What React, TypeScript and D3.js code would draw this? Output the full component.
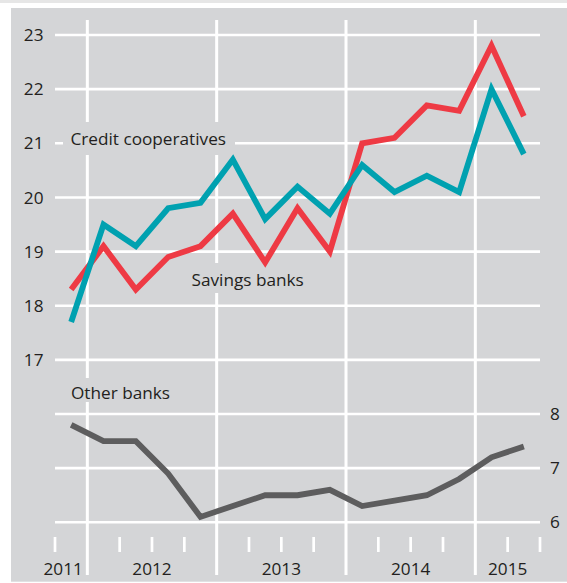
import React from "react";
import * as d3 from "d3";

const quarters = [
  "2011Q4", "2012Q1", "2012Q2", "2012Q3", "2012Q4",
  "2013Q1", "2013Q2", "2013Q3", "2013Q4",
  "2014Q1", "2014Q2", "2014Q3", "2014Q4",
  "2015Q1", "2015Q2",
];
const creditCooperatives = [17.7, 19.5, 19.1, 19.8, 19.9, 20.7, 19.6, 20.2, 19.7, 20.6, 20.1, 20.4, 20.1, 22.0, 20.8];
const savingsBanks = [18.3, 19.1, 18.3, 18.9, 19.1, 19.7, 18.8, 19.8, 19.0, 21.0, 21.1, 21.7, 21.6, 22.8, 21.5];
const otherBanks = [7.8, 7.5, 7.5, 6.9, 6.1, 6.3, 6.5, 6.5, 6.6, 6.3, 6.4, 6.5, 6.8, 7.2, 7.4];
const leftTicks = [17, 18, 19, 20, 21, 22, 23];
const rightTicks = [6, 7, 8];
const years = [2011, 2012, 2013, 2014, 2015];

const W = 567;
const H = 583;
const FONT = "'Open Sans', 'Noto Sans', sans-serif";
const PANEL = "#d4d5d7";
const TEXT = "#231f20";
const FS = 17.2;

function qToNum(q: string) {
  const y = +q.slice(0, 4);
  const n = +q.slice(5);
  return y + (n - 1) / 4 + 0.125;
}

export default function App() {
  const x = d3.scaleLinear().domain([2011.75, 2015.5]).range([55, 540]);
  const yL = d3.scaleLinear().domain([14, 23]).range([522.3, 35]);
  const yR = d3.scaleLinear().domain([6, 15]).range([522.3, 35]);

  const xs = quarters.map(qToNum);
  const lineL = d3
    .line<number>()
    .x((_, i) => x(xs[i]))
    .y((d) => yL(d))
    .curve(d3.curveLinear);
  const lineR = d3
    .line<number>()
    .x((_, i) => x(xs[i]))
    .y((d) => yR(d));

  const yearBounds = [2012, 2013, 2014, 2015];
  const tickQs: number[] = [];
  for (let v = 2011.75; v <= 2015.5001; v += 0.25) {
    if (Math.abs(v - Math.round(v)) > 0.01) tickQs.push(v);
  }

  const yearLabelX = (yr: number) => {
    if (yr === 2011) return x(2012) - 4.5;
    if (yr === 2015) return (x(2015) + x(2015.5)) / 2;
    return x(yr + 0.5);
  };

  const labels = [
    { text: "Credit cooperatives", tx: 70.5, ty: 144.5, box: [63, 122, 172, 33] },
    { text: "Savings banks", tx: 191.5, ty: 285.5, box: [184, 263, 129, 30] },
    { text: "Other banks", tx: 71, ty: 398.5, box: [63, 378, 114, 24] },
  ];

  return (
    <svg
      width={W}
      height={H}
      style={{ position: "absolute", left: 0, top: 0, background: "#fff" }}
      fontFamily={FONT}
    >
      <rect x={0} y={0} width={W} height={3} fill="#e6e6e6" />
      <rect x={11} y={8} width={W - 11} height={573.7} fill={PANEL} />

      {/* horizontal gridlines */}
      {leftTicks.map((t) => (
        <line key={"hl" + t} x1={55} x2={540} y1={yL(t)} y2={yL(t)} stroke="#fff" strokeWidth={2.6} />
      ))}
      {rightTicks.map((t) => (
        <line key={"hr" + t} x1={55} x2={540} y1={yR(t)} y2={yR(t)} stroke="#fff" strokeWidth={2.6} />
      ))}
      {/* vertical year gridlines */}
      {yearBounds.map((yb) => (
        <line key={"v" + yb} x1={x(yb)} x2={x(yb)} y1={20} y2={575} stroke="#fff" strokeWidth={3} />
      ))}
      {/* quarter ticks */}
      {tickQs.map((q) => (
        <line key={"t" + q} x1={x(q)} x2={x(q)} y1={537} y2={552} stroke="#fff" strokeWidth={2.7} />
      ))}

      {/* label backgrounds */}
      {labels.map((l) => (
        <rect key={"b" + l.text} x={l.box[0]} y={l.box[1]} width={l.box[2]} height={l.box[3]} fill={PANEL} />
      ))}

      {/* axis labels */}
      {leftTicks.map((t) => (
        <text key={"lt" + t} x={43.5} y={yL(t)} dy="0.36em" textAnchor="end" fontSize={FS} fill={TEXT}>
          {t}
        </text>
      ))}
      {rightTicks.map((t) => (
        <text key={"rt" + t} x={555} y={yR(t)} dy="0.36em" textAnchor="middle" fontSize={FS} fill={TEXT}>
          {t}
        </text>
      ))}
      {years.map((yr) => (
        <text
          key={"y" + yr}
          x={yearLabelX(yr)}
          y={575}
          textAnchor={yr === 2011 ? "end" : "middle"}
          fontSize={FS}
          fill={TEXT}
        >
          {yr}
        </text>
      ))}

      {/* data lines */}
      <path d={lineR(otherBanks) || ""} fill="none" stroke="#5d5d5e" strokeWidth={5.8} strokeLinejoin="miter" />
      <path d={lineL(savingsBanks) || ""} fill="none" stroke="#ee3a44" strokeWidth={5.8} strokeLinejoin="miter" />
      <path d={lineL(creditCooperatives) || ""} fill="none" stroke="#00a1b0" strokeWidth={5.8} strokeLinejoin="miter" />

      {labels.map((l) => (
        <text key={"l" + l.text} x={l.tx} y={l.ty} fontSize={FS} fill={TEXT}>
          {l.text}
        </text>
      ))}
    </svg>
  );
}
